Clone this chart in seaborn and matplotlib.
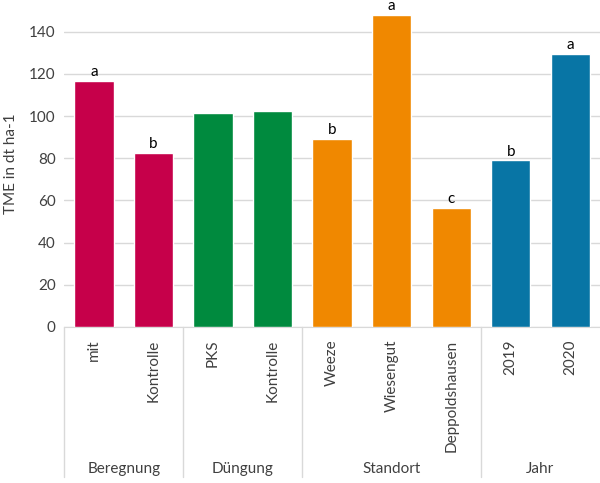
import pandas as pd
import matplotlib.pyplot as plt
import matplotlib.transforms as mtransforms
import seaborn as sns

# Values
labels = ['mit', 'Kontrolle', 'PKS', 'Kontrolle', 'Weeze', 'Wiesengut', 'Deppoldshausen', '2019', '2020']
groups = ['Beregnung', 'Beregnung', 'Düngung', 'Düngung', 'Standort', 'Standort', 'Standort', 'Jahr', 'Jahr']
tme = [116.8, 82.6, 101.3, 102.5, 89.2, 148.0, 56.4, 79.0, 129.6]
letters = ['a', 'b', '', '', 'b', 'a', 'c', 'b', 'a']
group_names = ['Beregnung', 'Düngung', 'Standort', 'Jahr']
group_colors = ['#C6004A', '#008A3E', '#F08800', '#0875A5']

sns.set_style('white')
plt.rcParams['font.family'] = ['Lato', 'DejaVu Sans']

df = pd.DataFrame({'pos': [str(i) for i in range(len(labels))],
                   'label': labels, 'group': groups, 'TME': tme})

fig = plt.figure(figsize=(6, 4.83), dpi=100)
ax = fig.add_axes([0.107, 0.323, 0.893, 0.677])

sns.barplot(data=df, x='pos', y='TME', hue='group', hue_order=group_names,
            palette=group_colors, dodge=False, width=0.66, legend=False,
            saturation=1, ax=ax, zorder=3)

ax.set_ylim(0, 155)
ax.set_xlim(-0.5, len(labels) - 0.5)
ax.set_yticks(range(0, 141, 20))
ax.yaxis.grid(True, color='#D9D9D9', linewidth=1, zorder=0)
ax.set_axisbelow(True)
for s in ['top', 'right', 'left']:
    ax.spines[s].set_visible(False)
ax.spines['bottom'].set_color('#D9D9D9')
ax.tick_params(axis='y', length=0, labelsize=11, labelcolor='#404040', pad=6)
ax.tick_params(axis='x', length=0, pad=9)
ax.set_xticks(range(len(labels)))
ax.set_xticklabels(labels, rotation=90, fontsize=11, color='#404040', va='top')
ax.set_xlabel('')
ax.set_ylabel('TME in dt ha-1', fontsize=11, color='#404040', labelpad=8)

# significance letters
for i, (v, t) in enumerate(zip(tme, letters)):
    if t:
        ax.text(i, v + 0.8, t, ha='center', va='bottom', fontsize=11,
                color='black', clip_on=False)

# group labels and separators below the axis
trans = mtransforms.blended_transform_factory(ax.transData, ax.transAxes)
bounds = [-0.5]
start = 0
for g in group_names:
    n = groups.count(g)
    mid = start + (n - 1) / 2
    ax.text(mid, -0.435, g, transform=trans, ha='center', va='center',
            fontsize=11, color='#404040')
    start += n
    bounds.append(start - 0.5)
for b in bounds[:-1]:
    ax.plot([b, b], [0, -0.46], transform=trans, color='#D9D9D9',
            linewidth=1, clip_on=False)

fig.savefig('out.png', dpi=100)
